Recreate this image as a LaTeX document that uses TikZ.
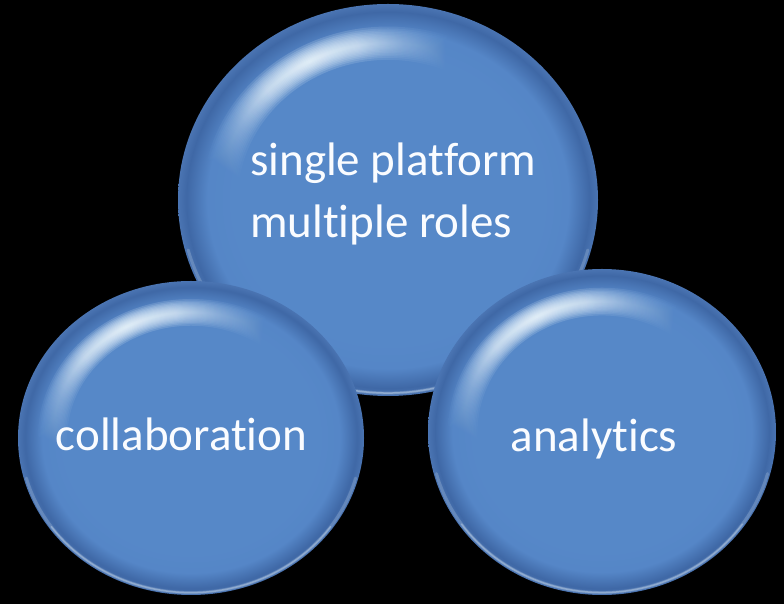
\documentclass[tikz,border=0pt]{standalone}
\usepackage{fontspec}
\setmainfont{Carlito}[Ligatures={NoCommon}]
\usetikzlibrary{shapes.geometric}
\definecolor{bbase}{HTML}{5688C8}
\definecolor{brim}{HTML}{5586C7}
\definecolor{bdark}{HTML}{3F68A6}
\definecolor{bedge}{HTML}{4A74B2}
\definecolor{hlcol}{HTML}{F2FBFF}
\definecolor{txtcol}{HTML}{FAFCFF}
\pgfdeclareradialshading{bubble}{\pgfpoint{0bp}{0bp}}{color(0bp)=(bbase); color(18bp)=(bbase); color(21.5bp)=(brim); color(24bp)=(bdark); color(25bp)=(bedge); color(50bp)=(bedge)}
\pgfdeclareradialshading{peakglow}{\pgfpoint{0bp}{0bp}}{color(0bp)=(hlcol); color(9bp)=(hlcol!80!bbase); color(17bp)=(hlcol!35!bbase); color(25bp)=(bbase); color(50bp)=(bbase)}
\tikzset{
  bubblenode/.style={ellipse, inner sep=0pt, draw=none, shading=bubble},
  hl/.style={draw=hlcol, line cap=round},
  label/.style={text=txtcol, font=\fontsize{47}{62}\selectfont, inner sep=0pt}
}
\newcommand\hlarc[5]{% #1 start, #2 end, #3 scale, #4 rx, #5 ry (from the centre)
  ++(#1:{#3*#4} and {#3*#5}) arc[start angle=#1, end angle=#2, x radius={#3*#4}, y radius={#3*#5}]}
% #1 name, #2 cx, #3 cy, #4 rx, #5 ry
\newcommand\mybubble[5]{%
  \node[bubblenode, minimum width={2*#4pt}, minimum height={2*#5pt}] (#1) at (#2,#3) {};
  \foreach \w in {0.085,0.075,0.066,0.058,0.05,0.043,0.036,0.03,0.024,0.018,0.012,0.007}{
    \begin{scope}[even odd rule]
      \clip (#2,#3) ellipse [x radius={(0.8+\w)*#4}, y radius={(0.8+\w)*#5}]
            (#2,#3) ellipse [x radius={(0.8-\w)*#4}, y radius={(0.8-\w)*#5}];
      \shade[shading=peakglow, fill opacity=.17] ({#2+0.8*#4*cos(118)},{#3+0.8*#5*sin(118)}) circle [radius=140];
    \end{scope}
  }
  \begin{scope}
    \clip (#2,#3) ellipse [x radius=#4, y radius=#5];
    % light lower edge
    \draw[hl, line width=3pt, opacity=.18] (#2,#3) \hlarc{195}{345}{0.985}{#4}{#5};
    \draw[hl, line width=1.5pt, opacity=.3] (#2,#3) \hlarc{215}{325}{0.985}{#4}{#5};
  \end{scope}
}
\begin{document}
\begin{tikzpicture}[x=1pt, y=1pt]
  \fill[black] (0,0) rectangle (784,604);
  \useasboundingbox (0,0) rectangle (784,604);
  \mybubble{top}{388}{404}{210}{196}
  \mybubble{left}{191}{166}{173}{157}
  \mybubble{right}{602}{172}{174}{163}
  \node[label, align=left, anchor=west] (ttop) at (250,410) {single platform\\multiple roles};
  \node[label, anchor=base] (tleft) at (181.5,153) {collaboration};
  \node[label, anchor=base] (tright) at (594,152) {analytics};
\end{tikzpicture}
\end{document}
